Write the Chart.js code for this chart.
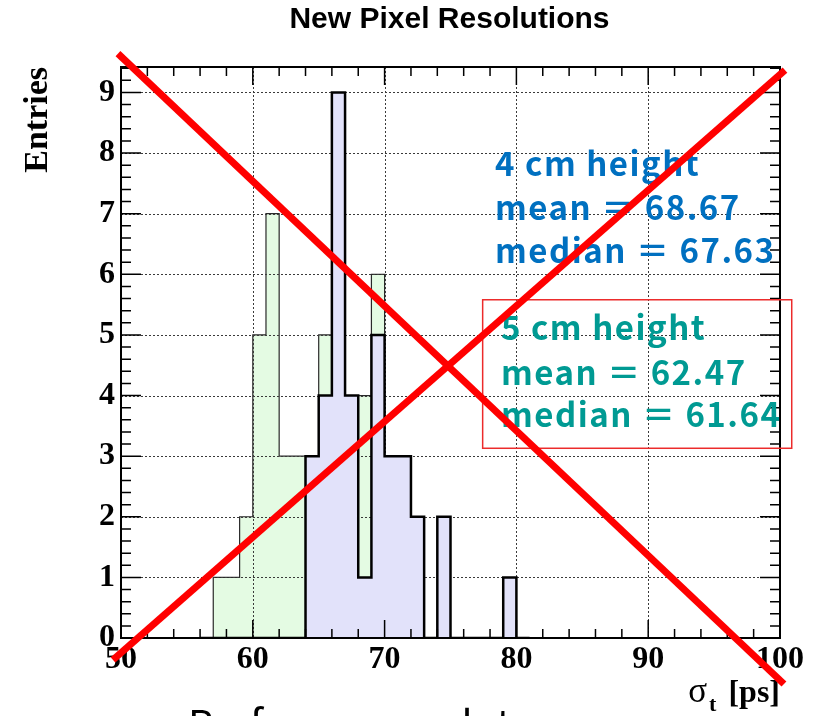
<!DOCTYPE html>
<html>
<head>
<meta charset="utf-8">
<script src="https://cdn.jsdelivr.net/npm/chart.js@4.4.0/dist/chart.umd.min.js"></script>
<style>
html,body{margin:0;padding:0;background:#fff;}
#wrap{width:819px;height:716px;position:relative;overflow:hidden;}
</style>
</head>
<body>
<div id="wrap"><canvas id="c" width="819" height="716"></canvas></div>
<script>
// ---------- data ----------
const binLowEdges = [56,57,58,59,60,61,62,63,64,65,66,67,68,69,70,71,72,73,74,75,76,77,78,79,80];
const counts4cm   = [0, 0, 0, 0, 0, 0, 0, 0, 3, 4, 9, 4, 1, 5, 3, 3, 2, 0, 2, 0, 0, 0, 0, 1, 0];
const counts5cm   = [0, 1, 1, 2, 5, 7, 3, 3, 2, 5, 3, 2, 4, 6, 1, 0, 0, 0, 0, 0, 0, 0, 0, 0, 0];
const binWidth = 1;
const xTickLabels = [50, 60, 70, 80, 90, 100];
const yTickLabels = [0, 1, 2, 3, 4, 5, 6, 7, 8, 9];
const xRange = [50, 100];
const yRange = [0, 9.42];
const stats4cm = ['4 cm height', 'mean \uFF1D 68.67', 'median \uFF1D 67.63'];
const stats5cm = ['5 cm height', 'mean \uFF1D 62.47', 'median \uFF1D 61.64'];
const chartTitle = 'New Pixel Resolutions';
const yTitle = 'Entries';
const bottomText = 'Performance plot';

// ---------- annotation placement (data coordinates) ----------
const crossLineA = [[49.77, 9.64], [100.30, -0.76]];
const crossLineB = [[49.39, -0.36], [100.38, 9.37]];
const boxCorners = [[77.44, 5.58], [100.89, 3.13]];
const text4Pos = {x: 78.38, baselines: [7.62, 6.90, 6.19]};
const text5Pos = {x: 78.83, baselines: [4.92, 4.17, 3.48]};

function stepOutline(edges, counts, w) {
  const pts = edges.map((e, i) => ({x: e, y: counts[i]}));
  pts.push({x: edges[edges.length - 1] + w, y: 0});
  return pts;
}

const SERIF = '"Liberation Serif", "Times New Roman", serif';
const SANS = '"Liberation Sans", Arial, sans-serif';
const JP = '"Noto Sans CJK JP", "Noto Sans", sans-serif';

function drawGrid(chart) {
  const {ctx, chartArea: a, scales: {x, y}} = chart;
  ctx.save();
  ctx.strokeStyle = '#3a3a3a';
  ctx.lineWidth = 1;
  ctx.setLineDash([2, 2]);
  xTickLabels.forEach(v => {
    if (v <= xRange[0] || v >= xRange[1]) return;
    const p = Math.round(x.getPixelForValue(v)) + 0.5;
    ctx.beginPath(); ctx.moveTo(p, a.top); ctx.lineTo(p, a.bottom); ctx.stroke();
  });
  yTickLabels.forEach(v => {
    if (v <= yRange[0] || v >= yRange[1]) return;
    const p = Math.round(y.getPixelForValue(v)) + 0.5;
    ctx.beginPath(); ctx.moveTo(a.left, p); ctx.lineTo(a.right, p); ctx.stroke();
  });
  ctx.restore();
}

function drawTicksFrame(chart) {
  const {ctx, chartArea: a, scales: {x, y}} = chart;
  ctx.save();
  ctx.strokeStyle = '#000';
  ctx.lineWidth = 1.5;
  const xMajor = xTickLabels[1] - xTickLabels[0];
  const xMinor = xMajor / 5;
  const nx = Math.round((xRange[1] - xRange[0]) / xMinor);
  for (let i = 0; i <= nx; i++) {
    const v = xRange[0] + i * xMinor;
    const len = (i % 5 === 0) ? 18 : 9;
    const p = x.getPixelForValue(v);
    ctx.beginPath();
    ctx.moveTo(p, a.bottom); ctx.lineTo(p, a.bottom - len);
    ctx.moveTo(p, a.top); ctx.lineTo(p, a.top + len);
    ctx.stroke();
  }
  const yMajor = yTickLabels[1] - yTickLabels[0];
  const yMinor = yMajor / 5;
  for (let i = 0; i * yMinor <= yRange[1] + 1e-9; i++) {
    const v = i * yMinor;
    const len = (i % 5 === 0) ? 20 : 10;
    const p = y.getPixelForValue(v);
    ctx.beginPath();
    ctx.moveTo(a.left, p); ctx.lineTo(a.left + len, p);
    ctx.moveTo(a.right, p); ctx.lineTo(a.right - len, p);
    ctx.stroke();
  }
  ctx.lineWidth = 2;
  ctx.strokeRect(a.left, a.top, a.right - a.left, a.bottom - a.top);
  ctx.restore();
}

function drawAnnotations(chart) {
  const {ctx, chartArea: a, scales: {x, y}} = chart;
  const X = v => x.getPixelForValue(v), Y = v => y.getPixelForValue(v);
  ctx.save();
  // title
  ctx.fillStyle = '#000';
  ctx.font = 'bold 30px ' + SANS;
  ctx.textAlign = 'center';
  ctx.textBaseline = 'alphabetic';
  ctx.fillText(chartTitle, (a.left + a.right) / 2 - 1, 28);

  // x axis title: sigma_t [ps]
  ctx.textAlign = 'left';
  const base = a.bottom + 64;
  ctx.font = 'bold 32px ' + SERIF;
  const w1 = ctx.measureText('[ps]').width;
  ctx.fillText('[ps]', a.right - w1, base);
  ctx.font = 'bold 22px ' + SERIF;
  const wt = ctx.measureText('t').width;
  const tX = a.right - w1 - 12 - wt;
  ctx.fillText('t', tX, base + 9);
  ctx.font = '35px ' + SERIF;
  const ws = ctx.measureText('\u03C3').width;
  ctx.fillText('\u03C3', tX - 2 - ws, base);

  // bottom (cut-off) text
  ctx.font = '40px ' + JP;
  ctx.fillText(bottomText, 188, 739);

  // stats texts
  ctx.font = 'bold 33px ' + JP;
  ctx.letterSpacing = '1.5px';
  ctx.fillStyle = '#0070c0';
  stats4cm.forEach((t, i) => ctx.fillText(t, X(text4Pos.x), Y(text4Pos.baselines[i])));
  ctx.fillStyle = '#009a93';
  stats5cm.forEach((t, i) => ctx.fillText(t, X(text5Pos.x), Y(text5Pos.baselines[i])));
  ctx.letterSpacing = '0px';

  // red box
  ctx.strokeStyle = '#ec2b2b';
  ctx.lineWidth = 1.5;
  const bx0 = X(boxCorners[0][0]), by0 = Y(boxCorners[0][1]);
  const bx1 = X(boxCorners[1][0]), by1 = Y(boxCorners[1][1]);
  ctx.strokeRect(bx0, by0, bx1 - bx0, by1 - by0);

  // red cross
  ctx.strokeStyle = '#ff0000';
  ctx.lineWidth = 7;
  ctx.lineCap = 'butt';
  [crossLineA, crossLineB].forEach(l => {
    ctx.beginPath();
    ctx.moveTo(X(l[0][0]), Y(l[0][1]));
    ctx.lineTo(X(l[1][0]), Y(l[1][1]));
    ctx.stroke();
  });
  ctx.restore();
}

const rootStyle = {
  id: 'rootStyle',
  beforeDraw(chart) {
    const {ctx} = chart;
    ctx.save(); ctx.fillStyle = '#fff'; ctx.fillRect(0, 0, chart.width, chart.height); ctx.restore();
  },
  afterDatasetDraw(chart, args) { if (args.index === 1) drawGrid(chart); },
  afterDatasetsDraw(chart) { drawTicksFrame(chart); },
  afterDraw(chart) { drawAnnotations(chart); }
};

const tickFont = {family: SERIF, weight: 'bold', size: 32};

new Chart(document.getElementById('c'), {
  type: 'line',
  data: {
    datasets: [
      {
        label: '4 cm height',
        data: stepOutline(binLowEdges, counts4cm, binWidth),
        stepped: true, fill: 'origin',
        backgroundColor: '#e2e2fa', borderColor: '#000', borderWidth: 2.5,
        pointRadius: 0, borderJoinStyle: 'miter', tension: 0
      },
      {
        label: '5 cm height',
        data: stepOutline(binLowEdges, counts5cm, binWidth),
        stepped: true, fill: 'origin',
        backgroundColor: '#e4fbe3', borderColor: '#2a2a2a', borderWidth: 1.2,
        pointRadius: 0, borderJoinStyle: 'miter', tension: 0
      }
    ]
  },
  options: {
    responsive: false,
    animation: false,
    devicePixelRatio: 1,
    layout: {padding: {top: 67, right: 39, bottom: 0, left: 0}},
    plugins: {legend: {display: false}, tooltip: {enabled: false}, title: {display: false}},
    scales: {
      x: {
        type: 'linear', min: xRange[0], max: xRange[1],
        afterBuildTicks: s => { s.ticks = xTickLabels.map(v => ({value: v})); },
        afterFit: s => { s.height = 78; },
        grid: {display: false, drawTicks: false},
        border: {display: false},
        ticks: {font: tickFont, color: '#000', padding: 3, maxRotation: 0, autoSkip: false}
      },
      y: {
        type: 'linear', min: yRange[0], max: yRange[1],
        afterBuildTicks: s => { s.ticks = yTickLabels.map(v => ({value: v})); },
        afterFit: s => { s.width = 121; },
        grid: {display: false, drawTicks: false},
        border: {display: false},
        ticks: {font: tickFont, color: '#000', padding: 6, autoSkip: false},
        title: {display: true, text: yTitle, align: 'end', color: '#000',
                font: {family: SERIF, weight: 'bold', size: 34}, padding: {top: 18, bottom: 0}}
      }
    }
  },
  plugins: [rootStyle]
});
</script>
</body>
</html>
